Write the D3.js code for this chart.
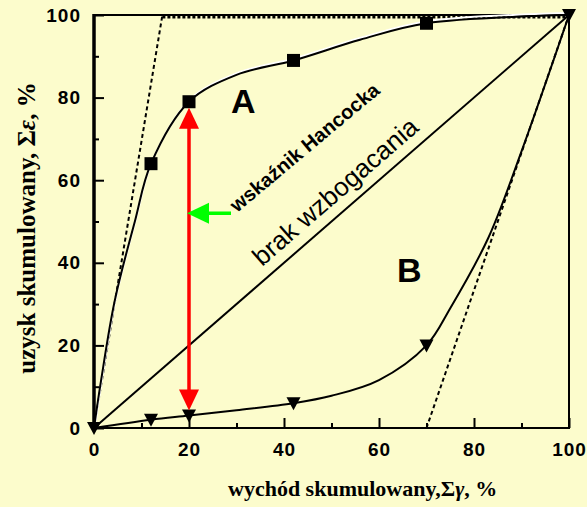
<!DOCTYPE html>
<html>
<head>
<meta charset="utf-8">
<script src="https://cdn.jsdelivr.net/npm/d3@7"></script>
<style>
  html, body { margin: 0; padding: 0; background: #fcfccc; }
  svg { display: block; }
</style>
</head>
<body>
<svg id="chart"></svg>
<script>
// data
const xTicks = [0, 20, 40, 60, 80, 100];
const yTicks = [0, 20, 40, 60, 80, 100];
const minorTicks = [10, 30, 50, 70, 90];

// curve A (concentrate), markers and the drawn line
const markersA = [[12, 64], [20, 79], [42, 89], [70, 98]];
const curveA = [[0, 0], [1.5, 11.6], [4.4, 31], [8.6, 50], [12, 64], [20, 79], [30, 85.5], [42, 89], [56, 94], [70, 98], [100, 100]];

// curve B (tailings), markers and the drawn line
const markersB = [[0, 0], [12, 2], [20, 3], [42, 6], [70, 20], [100, 100]];
const curveB = [[0, 0], [12, 2], [20, 3], [30, 4.3], [42, 6], [50, 7.8], [60, 11.6], [70, 20], [75, 29], [83, 46], [90, 67], [100, 100]];

// ideal separation lines
const idealA = [[0, 0], [14.4, 100]];
const idealTop = [[14.4, 100], [100, 100]];
const idealB = [[70, 0], [100, 100]];
const noSeparation = [[0, 0], [100, 100]];

// hancock index arrow and pointer
const hancock = { x: 20, low: 3, high: 79 };
const pointerY = 52;

// set up constants
const width = 587;
const height = 507;
const margin = { top: 15, right: 18, bottom: 79, left: 94 };

const svg = d3.select('#chart')
  .attr('width', width)
  .attr('height', height);

// create scales
const xScale = d3.scaleLinear()
  .domain([0, 100])
  .range([margin.left, width - margin.right]);

const yScale = d3.scaleLinear()
  .domain([0, 100])
  .range([height - margin.bottom, margin.top]);

const line = d3.line()
  .x(d => xScale(d[0]))
  .y(d => yScale(d[1]));

const smooth = d3.line()
  .x(d => xScale(d[0]))
  .y(d => yScale(d[1]))
  .curve(d3.curveCatmullRom.alpha(0.5));

// axes with inward ticks
const tickFont = 'Liberation Sans, Arial, sans-serif';

svg.append('g')
  .attr('transform', `translate(0, ${yScale(0)})`)
  .call(d3.axisBottom(xScale).tickValues(xTicks).tickSize(-10).tickPadding(15));

svg.append('g')
  .attr('transform', `translate(0, ${yScale(0)})`)
  .call(d3.axisBottom(xScale).tickValues(minorTicks).tickSize(-5).tickFormat(''));

svg.append('g')
  .attr('transform', `translate(${xScale(0)}, 0)`)
  .call(d3.axisLeft(yScale).tickValues(yTicks).tickSize(-10).tickPadding(13));

svg.append('g')
  .attr('transform', `translate(${xScale(0)}, 0)`)
  .call(d3.axisLeft(yScale).tickValues(minorTicks).tickSize(-5).tickFormat(''));

svg.selectAll('.domain').remove();
svg.selectAll('.tick line').attr('stroke', '#000').attr('stroke-width', 2);
svg.selectAll('.tick text')
  .attr('fill', '#000')
  .style('font-family', tickFont)
  .style('font-weight', 'bold')
  .style('font-size', '19px')
  .style('letter-spacing', '1px');

// frame
svg.append('rect')
  .attr('x', xScale(0))
  .attr('y', yScale(100))
  .attr('width', xScale(100) - xScale(0))
  .attr('height', yScale(0) - yScale(100))
  .attr('fill', 'none')
  .attr('stroke', '#000')
  .attr('stroke-width', 2);

svg.append('line')
  .attr('x1', xScale(0)).attr('x2', xScale(0))
  .attr('y1', yScale(100) - 1).attr('y2', yScale(0) + 1)
  .attr('stroke', '#000')
  .attr('stroke-width', 3.5);

// ideal lines
svg.append('path')
  .attr('d', line(idealA))
  .attr('fill', 'none').attr('stroke', '#000')
  .attr('stroke-width', 2).attr('stroke-dasharray', '4,3');

svg.append('path')
  .attr('d', line(idealB))
  .attr('fill', 'none').attr('stroke', '#000')
  .attr('stroke-width', 2).attr('stroke-dasharray', '4,3');

svg.append('path')
  .attr('d', line(idealTop))
  .attr('transform', 'translate(0, 2)')
  .attr('fill', 'none').attr('stroke', '#000')
  .attr('stroke-width', 3).attr('stroke-dasharray', '3,2');

// no separation diagonal
svg.append('path')
  .attr('d', line(noSeparation))
  .attr('fill', 'none').attr('stroke', '#000')
  .attr('stroke-width', 2);

// curve A with its white highlight
svg.append('path')
  .attr('d', smooth(curveA))
  .attr('transform', 'translate(1, -2)')
  .attr('fill', 'none').attr('stroke', '#fff')
  .attr('stroke-width', 2);

svg.append('path')
  .attr('d', smooth(curveA))
  .attr('fill', 'none').attr('stroke', '#000')
  .attr('stroke-width', 2);

// curve B
svg.append('path')
  .attr('d', smooth(curveB))
  .attr('fill', 'none').attr('stroke', '#000')
  .attr('stroke-width', 2);

// markers
svg.selectAll('.sq')
  .data(markersA)
  .enter()
  .append('rect')
  .attr('x', d => xScale(d[0]) - 6.5)
  .attr('y', d => yScale(d[1]) - 6.5)
  .attr('width', 13)
  .attr('height', 13)
  .attr('fill', '#000');

svg.selectAll('.tri')
  .data(markersB)
  .enter()
  .append('path')
  .attr('transform', d => `translate(${xScale(d[0])}, ${yScale(d[1])})`)
  .attr('d', 'M-7,-6L7,-6L0,7Z')
  .attr('fill', '#000');

// hancock double arrow (red)
const hx = xScale(hancock.x);
const yTop = yScale(hancock.high) + 6;
const yBot = yScale(hancock.low) - 5;

svg.append('line')
  .attr('x1', hx).attr('x2', hx)
  .attr('y1', yTop + 18).attr('y2', yBot - 18)
  .attr('stroke', '#ff0000')
  .attr('stroke-width', 3.5);

svg.append('path')
  .attr('d', `M${hx},${yTop}L${hx + 10},${yTop + 21}L${hx - 10},${yTop + 21}Z`)
  .attr('fill', '#ff0000');

svg.append('path')
  .attr('d', `M${hx},${yBot}L${hx + 10},${yBot - 21}L${hx - 10},${yBot - 21}Z`)
  .attr('fill', '#ff0000');

// green pointer
const gy = yScale(pointerY);
svg.append('line')
  .attr('x1', hx + 18).attr('x2', hx + 42)
  .attr('y1', gy).attr('y2', gy)
  .attr('stroke', '#00ff00')
  .attr('stroke-width', 3.5);

svg.append('path')
  .attr('d', `M${hx - 2},${gy}L${hx + 20},${gy - 10.5}L${hx + 20},${gy + 10.5}Z`)
  .attr('fill', '#00ff00');

// annotations
svg.append('text')
  .attr('x', 231).attr('y', 113)
  .style('font-family', tickFont).style('font-weight', 'bold').style('font-size', '34px')
  .text('A');

svg.append('text')
  .attr('x', 397).attr('y', 282)
  .style('font-family', tickFont).style('font-weight', 'bold').style('font-size', '34px')
  .text('B');

svg.append('text')
  .attr('transform', 'translate(237, 213) rotate(-40)')
  .style('font-family', tickFont).style('font-weight', 'bold').style('font-size', '20px')
  .text('wskaźnik Hancocka');

svg.append('text')
  .attr('transform', 'translate(262, 267) rotate(-41)')
  .style('font-family', tickFont).style('font-size', '26px')
  .text('brak wzbogacania');

// axis titles
const titleFont = 'Liberation Serif, Times New Roman, serif';

const xTitle = svg.append('text')
  .attr('x', 228).attr('y', 496)
  .style('font-family', titleFont).style('font-weight', 'bold').style('font-size', '22px');
xTitle.append('tspan').text('wychód skumulowany,Σ');
xTitle.append('tspan').style('font-style', 'italic').text('γ');
xTitle.append('tspan').text(', %');

const yTitle = svg.append('text')
  .attr('transform', 'translate(35, 228) rotate(-90)')
  .attr('text-anchor', 'middle')
  .style('font-family', titleFont).style('font-weight', 'bold').style('font-size', '25px');
yTitle.append('tspan').text('uzysk skumulowany, Σ');
yTitle.append('tspan').style('font-style', 'italic').text('ε');
yTitle.append('tspan').text(', %');
</script>
</body>
</html>
